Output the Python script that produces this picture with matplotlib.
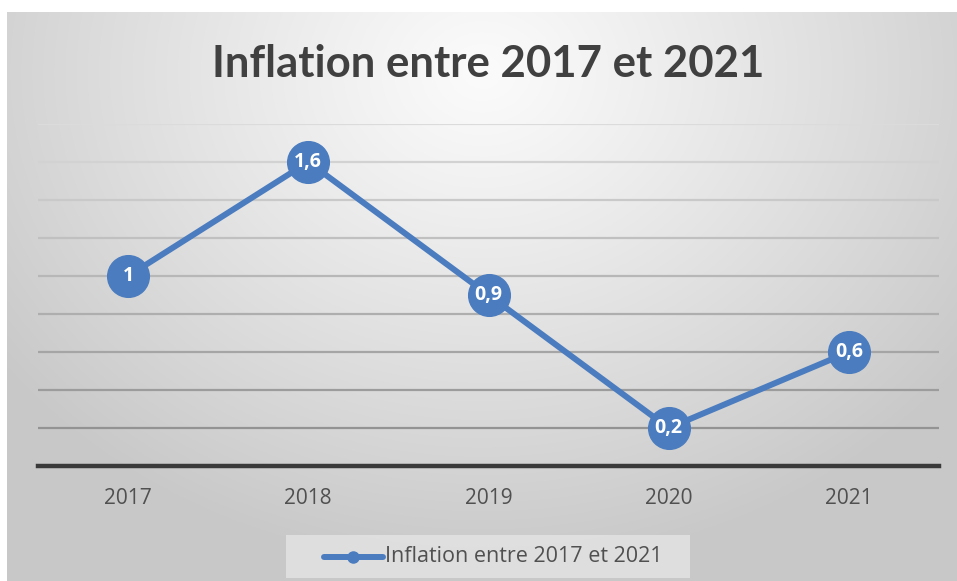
import numpy as np
import matplotlib.pyplot as plt
from matplotlib.lines import Line2D

years = ["2017", "2018", "2019", "2020", "2021"]
inflation = [1.0, 1.6, 0.9, 0.2, 0.6]
series_name = "Inflation entre 2017 et 2021"
title = "Inflation entre 2017 et 2021"

W, H = 957, 581
fig = plt.figure(figsize=(W / 100, H / 100), dpi=100)
fig.patch.set_facecolor("white")

# radial gray gradient behind the chart area
bg = fig.add_axes([7 / W, 0, 1 - 7 / W, 1 - 12 / H])
bg.set_axis_off()
yy, xx = np.mgrid[0:569, 0:950]
cx, cy = 475, 60
d = np.sqrt(((xx - cx) / 600.0) ** 2 + ((yy - cy) / 500.0) ** 2)
d = np.clip(d, 0, 1)
val = 0.985 - 0.20 * d ** 1.1
bg.imshow(np.dstack([val, val, val]), aspect="auto", interpolation="bilinear",
          extent=[0, 1, 0, 1], origin="upper")
bg.set_xlim(0, 1)
bg.set_ylim(0, 1)

# plot area
left, right = 38 / W, 939 / W
bottom, top = 1 - 466 / H, 1 - 124 / H
ax = fig.add_axes([left, bottom, right - left, top - bottom])
ax.set_facecolor("none")
ax.set_xlim(-0.5, len(years) - 0.5)
ax.set_ylim(0, 1.8)

grid_vals = np.arange(0.2, 1.81, 0.2)
for g in grid_vals:
    t = g / 1.8
    c = 0.54 + 0.32 * t
    ax.axhline(g, color=(c, c, c), lw=1.6, zorder=1)
ax.axhline(0, color="#3a3a3a", lw=3.2, zorder=2, clip_on=False)

for s in ax.spines.values():
    s.set_visible(False)
ax.set_yticks([])
x = np.arange(len(years))
ax.set_xticks(x)
ax.set_xticklabels(years, fontsize=15, color="#505050", family="Open Sans")
ax.tick_params(axis="x", length=0, pad=16)

blue = "#4a7cbf"
ax.plot(x, inflation, color=blue, lw=4.3, marker="o", markersize=30,
        markerfacecolor=blue, markeredgecolor=blue, zorder=3,
        solid_capstyle="round", clip_on=False)
for xi, v in zip(x, inflation):
    lab = f"{v:g}".replace(".", ",")
    ax.text(xi, v, lab, ha="center", va="center", color="white",
            fontsize=14, fontweight="bold", family="Open Sans", zorder=4)

fig.text(488 / W, 1 - 64 / H, title, ha="center", va="center",
         fontsize=31.5, fontweight="bold", color="#404040", family="Lato")

# legend box
lx0, lx1 = 286 / W, 690 / W
ly0, ly1 = 1 - 578 / H, 1 - 535 / H
leg = fig.add_axes([lx0, ly0, lx1 - lx0, ly1 - ly0])
leg.set_facecolor((0.93, 0.93, 0.93, 0.6))
for s in leg.spines.values():
    s.set_visible(False)
leg.set_xticks([])
leg.set_yticks([])
leg.set_xlim(0, 1)
leg.set_ylim(0, 1)
leg.add_line(Line2D([0.095, 0.24], [0.5, 0.5], color=blue, lw=4.3,
                    solid_capstyle="round"))
leg.plot([0.167], [0.5], marker="o", markersize=8, color=blue)
leg.text(0.245, 0.5, series_name, ha="left", va="center", fontsize=15.5,
         color="#505050", family="Open Sans")

fig.savefig("out.png", dpi=100)
